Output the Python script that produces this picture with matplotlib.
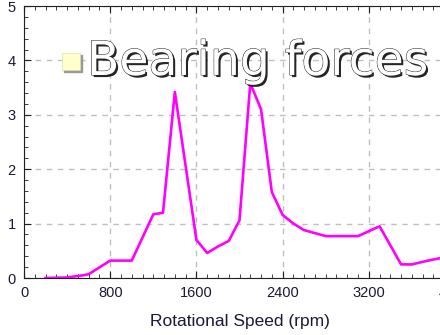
import matplotlib.pyplot as plt
import matplotlib.patheffects as pe
from matplotlib.patches import Rectangle
from matplotlib.ticker import MultipleLocator

rpm = [200, 400, 550, 600, 800, 1000, 1200, 1290, 1400, 1600, 1700, 1800, 1900,
       2000, 2100, 2200, 2300, 2400, 2500, 2600, 2800, 3100, 3200, 3300, 3500,
       3600, 3750, 3900, 4000]
force = [0.0, 0.01, 0.05, 0.07, 0.32, 0.32, 1.17, 1.2, 3.42, 0.7, 0.46, 0.58, 0.68,
         1.06, 3.58, 3.1, 1.58, 1.16, 1.0, 0.88, 0.77, 0.77, 0.86, 0.95, 0.25,
         0.25, 0.32, 0.38, 0.42]

W, H = 440, 335
fig = plt.figure(figsize=(W / 100, H / 100), dpi=100)
# axes runs past the right edge, like the cropped original
ax = fig.add_axes([24 / W, 57 / H, 431 / W, 272 / H])

ax.plot(rpm, force, color='#ff00ff', lw=1.9, zorder=3)

ax.set_xlim(0, 4000)
ax.set_ylim(0, 5)
ax.xaxis.set_major_locator(MultipleLocator(800))
ax.xaxis.set_minor_locator(MultipleLocator(100))
ax.yaxis.set_major_locator(MultipleLocator(1))
ax.yaxis.set_minor_locator(MultipleLocator(0.2))
ax.tick_params(which='both', direction='in', top=True, right=True, color='#202020')
ax.tick_params(which='major', length=5, labelsize=10.5, labelcolor='#1a1a33', pad=6)
ax.tick_params(which='minor', length=3)
ax.grid(True, which='major', color='#c0c0c0', ls=(0, (4, 4)), lw=1)
for lab in ax.get_xticklabels() + ax.get_yticklabels():
    lab.set_family('Liberation Sans')
for s in ax.spines.values():
    s.set_color('#202020')

ax.set_xlabel('Rotational Speed (rpm)', fontsize=12.5, family='Liberation Sans',
              color='#1a1a33', labelpad=10)

# title overlay with bullet
fig.patches.append(Rectangle((63.5 / W, (H - 71.5) / H), 18 / W, 17 / H,
                             transform=fig.transFigure, color='#999999', zorder=5))
fig.patches.append(Rectangle((62 / W, (H - 70) / H), 18 / W, 17 / H,
                             transform=fig.transFigure, facecolor='#ffffcc',
                             edgecolor='#e0e0b0', lw=0.5, zorder=6))
fig.text(87 / W, (H - 75) / H, 'Bearing forces', fontsize=34, color='white',
         family='DejaVu Sans', va='baseline', ha='left', zorder=7,
         path_effects=[pe.SimplePatchShadow(offset=(1.5, -1.5), shadow_rgbFace='black', alpha=0.85),
                       pe.Stroke(linewidth=0.7, foreground='#222222'), pe.Normal()])

fig.savefig('out.png', dpi=100)
